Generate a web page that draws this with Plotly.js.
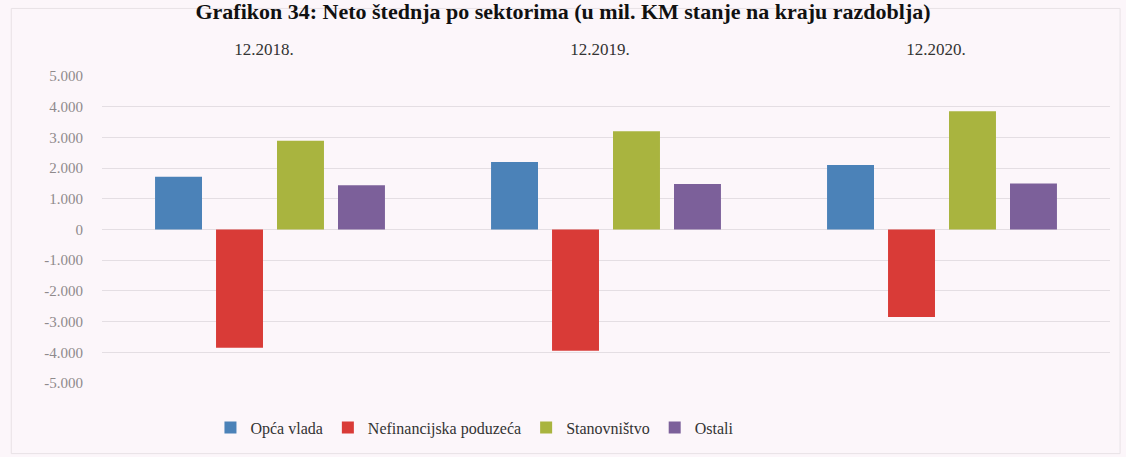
<!DOCTYPE html>
<html>
<head>
<meta charset="utf-8">
<script src="https://cdn.plot.ly/plotly-3.0.1.min.js"></script>
<style>html,body{margin:0;padding:0;background:#fcf6fa;}#chart{width:1126px;height:457px;}</style>
</head>
<body>
<div id="chart"></div>
<script>
const categories = ["12.2018.", "12.2019.", "12.2020."];
const seriesNames = ["Opća vlada", "Nefinancijska poduzeća", "Stanovništvo", "Ostali"];
const opcaVlada = [1720, 2200, 2100];
const nefinancijska = [-3850, -3950, -2850];
const stanovnistvo = [2890, 3200, 3850];
const ostali = [1440, 1480, 1500];
const yTickVals = [5000, 4000, 3000, 2000, 1000, 0, -1000, -2000, -3000, -4000, -5000];
const yTickText = ["5.000", "4.000", "3.000", "2.000", "1.000", "0", "-1.000", "-2.000", "-3.000", "-4.000", "-5.000"];
const colors = ["#4b82b8", "#d93b37", "#a9b43f", "#7c609a"];

const values = [opcaVlada, nefinancijska, stanovnistvo, ostali];
const data = values.map((v, i) => ({
  type: "bar",
  name: seriesNames[i],
  x: categories,
  y: v,
  marker: {color: colors[i]},
  hoverinfo: "skip"
}));

const serif = "Liberation Serif, Times New Roman, serif";
const layout = {
  width: 1126, height: 457,
  paper_bgcolor: "#fcf6fa",
  plot_bgcolor: "#fcf6fa",
  margin: {l: 102, r: 16, t: 76, b: 71},
  barmode: "group",
  bargap: 0.274,
  bargroupgap: 0.23,
  title: {
    text: "<b>Grafikon 34: Neto štednja po sektorima (u mil. KM stanje na kraju razdoblja)</b>",
    font: {family: serif, size: 22, color: "#111"},
    x: 0.5, xanchor: "center", y: 0.976, yanchor: "middle", yref: "container"
  },
  xaxis: {
    side: "top",
    showgrid: false,
    showline: false,
    ticks: "",
    ticklabelstandoff: 17,
    ticklabelshift: -6,
    tickfont: {family: serif, size: 17, color: "#333"}
  },
  yaxis: {
    range: [-5000, 5000],
    tickvals: yTickVals,
    ticktext: yTickText,
    showgrid: true,
    gridcolor: "#e4dee3",
    gridwidth: 1,
    zeroline: true,
    zerolinecolor: "#e4dee3",
    zerolinewidth: 1,
    showline: false,
    ticks: "",
    ticklabelstandoff: 18,
    tickfont: {family: serif, size: 15, color: "#8f8a8c"}
  },
  showlegend: true,
  legend: {
    orientation: "h",
    x: 0.37, xanchor: "center",
    y: -0.09, yanchor: "top",
    font: {family: serif, size: 16, color: "#333"},
    itemwidth: 30,
    traceorder: "normal",
    bgcolor: "rgba(0,0,0,0)"
  },
  shapes: [{
    type: "rect", xref: "paper", yref: "paper",
    x0: -0.09, x1: 1.01, y0: -0.23, y1: 1.22,
    line: {color: "#e8e2e6", width: 1}
  }]
};

Plotly.newPlot("chart", data, layout, {displayModeBar: false, staticPlot: true});
</script>
</body>
</html>
